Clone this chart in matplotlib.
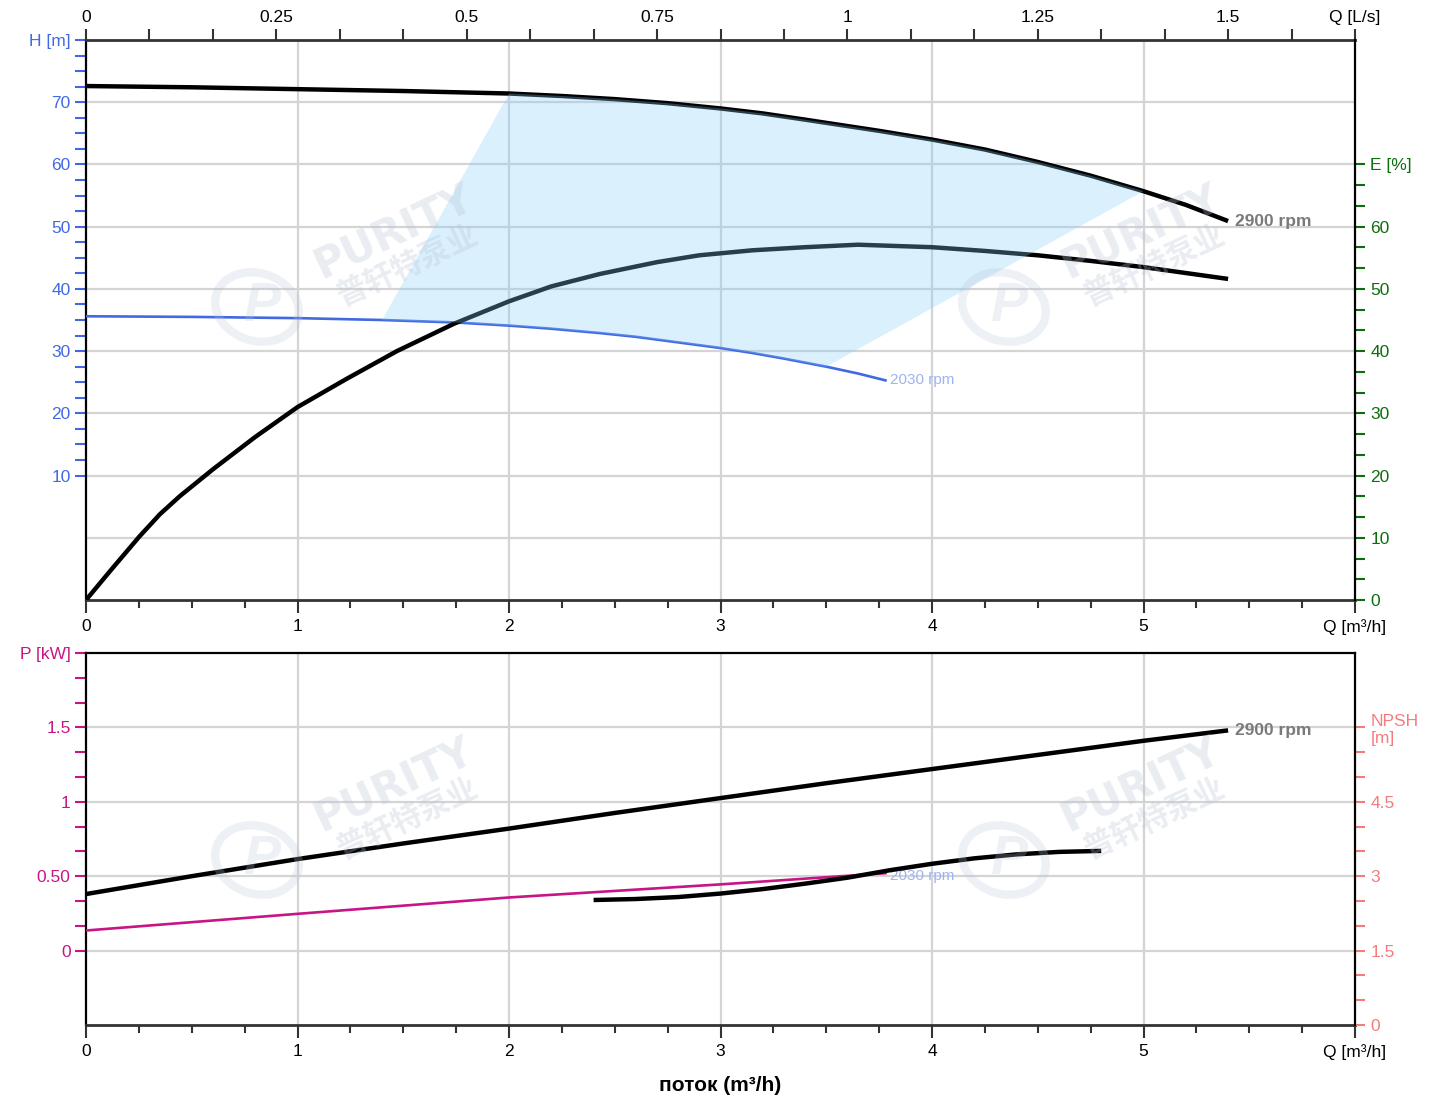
"""
Pump performance chart: head / efficiency (top) and power / NPSH (bottom).
"""
import numpy as np
import matplotlib
matplotlib.use('Agg')
import matplotlib.pyplot as plt
from matplotlib.ticker import FixedLocator
from matplotlib.patches import Ellipse

plt.rcParams['font.family'] = ['Liberation Sans', 'DejaVu Sans']

# ---- data ----
# head curve, 2900 rpm (Q m3/h, H m)
q_h2900 = [0, 0.5, 1, 1.5, 2, 2.25, 2.5, 2.75, 3, 3.2, 3.4, 3.75, 4, 4.25, 4.5, 4.75, 5, 5.2, 5.4]
h2900 = [72.6, 72.4, 72.1, 71.8, 71.4, 71.0, 70.5, 69.85, 69.0, 68.2, 67.2, 65.4, 64.0, 62.4,
         60.4, 58.2, 55.7, 53.5, 50.9]

# head curve, 2030 rpm
q_h2030 = [0, 0.5, 1, 1.4, 1.75, 2, 2.2, 2.43, 2.6, 2.8, 3.0, 3.15, 3.3, 3.5, 3.65, 3.78]
h2030 = [35.6, 35.5, 35.3, 35.0, 34.6, 34.1, 33.6, 32.9, 32.3, 31.4, 30.5, 29.7, 28.8, 27.5,
         26.4, 25.3]

# efficiency, 2900 rpm (E %)
q_eff = [0, 0.12, 0.255, 0.35, 0.444, 0.6, 0.8, 1.0, 1.23, 1.47, 1.74, 2.0, 2.2, 2.43, 2.7,
         2.9, 3.15, 3.4, 3.65, 4.0, 4.25, 4.5, 4.75, 5.0, 5.4]
eff = [0, 4.9, 10.3, 13.8, 16.7, 21, 26.2, 31, 35.5, 40, 44.4, 48, 50.4, 52.4, 54.3,
       55.4, 56.2, 56.7, 57.1, 56.7, 56.1, 55.4, 54.5, 53.5, 51.6]

# shaded operating range (Q limits on each speed curve)
range_2900 = (2.0, 5.0)
range_2030 = (1.4, 3.5)

# power (kW)
q_p2900 = [0, 0.5, 1, 1.5, 2, 2.5, 3, 3.5, 4, 4.5, 5, 5.4]
p2900 = [0.38, 0.50, 0.615, 0.72, 0.82, 0.925, 1.025, 1.125, 1.22, 1.315, 1.41, 1.48]
q_p2030 = [0, 1, 2, 3, 3.78]
p2030 = [0.135, 0.247, 0.357, 0.445, 0.52]

# NPSH (m)
q_npsh = [2.4, 2.6, 2.8, 3.0, 3.2, 3.4, 3.6, 3.8, 4.0, 4.2, 4.4, 4.6, 4.8]
npsh = [2.52, 2.54, 2.58, 2.65, 2.74, 2.85, 2.97, 3.12, 3.25, 3.36, 3.44, 3.49, 3.51]

# tick labels
q_ticks = [0, 1, 2, 3, 4, 5, 6]
q_labels = ['0', '1', '2', '3', '4', '5', 'Q [m³/h]']
ls_ticks = [0, 0.25, 0.5, 0.75, 1, 1.25, 1.5, 6 / 3.6]
ls_labels = ['0', '0.25', '0.5', '0.75', '1', '1.25', '1.5', 'Q [L/s]']
h_ticks = [10, 20, 30, 40, 50, 60, 70, 80]
h_labels = ['10', '20', '30', '40', '50', '60', '70', 'H [m]']
e_ticks = [0, 10, 20, 30, 40, 50, 60, 70]
e_labels = ['0', '10', '20', '30', '40', '50', '60', 'E [%]']
p_ticks = [0, 0.5, 1, 1.5, 2]
p_labels = ['0', '0.50', '1', '1.5', 'P [kW]']
n_ticks = [0, 1.5, 3, 4.5, 6]
n_labels = ['0', '1.5', '3', '4.5', 'NPSH\n[m]']

BLUE = '#4169E1'
MAGENTA = '#C71585'
GREEN = '#0B6E0B'
SALMON = '#F47C7C'
GRID = '#d4d4d4'
AXIS = '#333333'
FS = 12.5

W, H = 1430, 1099
fig = plt.figure(figsize=(W / 100, H / 100), dpi=100)


def fx(px):
    return px / W


def fy(py):
    return 1 - py / H


def style_x(ax):
    ax.tick_params(axis='x', which='major', direction='out', length=9, width=1.5,
                   color=AXIS, labelsize=FS, pad=5)
    ax.tick_params(axis='x', which='minor', direction='out', length=6, width=1.5,
                   color=AXIS)


def keep_spines(ax, sides, color='black', lw=1.6):
    for name, s in ax.spines.items():
        s.set_visible(name in sides)
        s.set_color(color)
        s.set_linewidth(lw)


# ================= top: head + efficiency =================
ax1 = fig.add_axes([fx(86), fy(600), fx(1355 - 86), (600 - 40) / H])
ax1q = ax1.twiny()
ax1e = ax1.twinx()

ax1.set_xlim(0, 6)
ax1.set_ylim(-10, 80)
ax1q.set_xlim(0, 6 / 3.6)
ax1e.set_ylim(0, 90)

for h in range(0, 80, 10):
    ax1.axhline(h, color=GRID, lw=1.6, zorder=0)
for q in range(1, 6):
    ax1.axvline(q, color=GRID, lw=1.6, zorder=0)

ax1.plot(q_h2900, h2900, color='black', lw=3.2, solid_capstyle='butt', zorder=3)
ax1.plot(q_h2030, h2030, color=BLUE, lw=1.9, zorder=3)
ax1e.plot(q_eff, eff, color='black', lw=3.2, solid_capstyle='butt', zorder=3)

# operating range polygon, drawn over the curves on the top-most axes
qa, ha = np.array(q_h2900), np.array(h2900)
qb, hb = np.array(q_h2030), np.array(h2030)
ma = (qa >= range_2900[0]) & (qa <= range_2900[1])
mb = (qb >= range_2030[0]) & (qb <= range_2030[1])
poly_q = np.concatenate([qa[ma], qb[mb][::-1]])
poly_h = np.concatenate([ha[ma], hb[mb][::-1]])
ax1e.fill(poly_q, poly_h, transform=ax1.transData, color='#87CEFA', alpha=0.3,
          lw=0, zorder=5)

ax1.annotate('2900 rpm', (q_h2900[-1], h2900[-1]), xytext=(5, 0),
             textcoords='offset points', va='center', ha='left',
             fontsize=12.5, fontweight='bold', color='#7a7a7a')
ax1.annotate('2030 rpm', (q_h2030[-1], h2030[-1]), xytext=(3, 0),
             textcoords='offset points', va='center', ha='left',
             fontsize=11, color='#9fb3ee')

# axes styling
ax1.set_xticks(q_ticks)
ax1.set_xticklabels(q_labels)
ax1.xaxis.set_minor_locator(FixedLocator(np.arange(0, 6.01, 0.25)))
style_x(ax1)
ax1.set_yticks(h_ticks)
ax1.set_yticklabels(h_labels)
ax1.yaxis.set_minor_locator(FixedLocator(np.arange(10, 80.1, 2.5)))
ax1.tick_params(axis='y', which='both', direction='out', length=8, width=1.5,
                color=BLUE, labelcolor=BLUE, labelsize=FS, pad=3)

ax1q.set_xticks(ls_ticks)
ax1q.set_xticklabels(ls_labels)
ax1q.xaxis.set_minor_locator(FixedLocator(np.arange(0, 1.67, 1 / 12)))
ax1q.tick_params(axis='x', which='both', direction='out', length=8, width=1.5,
                 color=AXIS, labelsize=FS, pad=3)

ax1e.set_yticks(e_ticks)
ax1e.set_yticklabels(e_labels)
ax1e.yaxis.set_minor_locator(FixedLocator(np.arange(0, 70.1, 10 / 3)))
ax1e.tick_params(axis='y', which='both', direction='out', length=7, width=1.5,
                 color=GREEN, labelcolor=GREEN, labelsize=FS, pad=4)

keep_spines(ax1, ('left',))
ax1.spines['bottom'].set_visible(True)
ax1.spines['bottom'].set_color(AXIS)
ax1.spines['bottom'].set_linewidth(2)
keep_spines(ax1q, ('top',), AXIS, 2)
keep_spines(ax1e, ('right',))

# ================= bottom: power + NPSH =================
ax2 = fig.add_axes([fx(86), fy(1025), fx(1355 - 86), (1025 - 653) / H])
ax2n = ax2.twinx()
ax2.set_xlim(0, 6)
ax2.set_ylim(-0.5, 2.0)
ax2n.set_ylim(0, 7.5)

for p in (0, 0.5, 1, 1.5):
    ax2.axhline(p, color=GRID, lw=1.6, zorder=0)
for q in range(1, 6):
    ax2.axvline(q, color=GRID, lw=1.6, zorder=0)

ax2.plot(q_p2900, p2900, color='black', lw=3.2, solid_capstyle='butt', zorder=3)
ax2.plot(q_p2030, p2030, color=MAGENTA, lw=1.9, zorder=3)
ax2n.plot(q_npsh, npsh, color='black', lw=3.2, solid_capstyle='butt', zorder=3)

ax2.annotate('2900 rpm', (q_p2900[-1], p2900[-1]), xytext=(5, 0),
             textcoords='offset points', va='center', ha='left',
             fontsize=12.5, fontweight='bold', color='#7a7a7a')
ax2.annotate('2030 rpm', (q_p2030[-1], p2030[-1]), xytext=(3, -2),
             textcoords='offset points', va='center', ha='left',
             fontsize=11, color='#9fb3ee')

ax2.set_xticks(q_ticks)
ax2.set_xticklabels(q_labels)
ax2.xaxis.set_minor_locator(FixedLocator(np.arange(0, 6.01, 0.25)))
style_x(ax2)
ax2.set_yticks(p_ticks)
ax2.set_yticklabels(p_labels)
ax2.yaxis.set_minor_locator(FixedLocator(np.arange(0, 2.01, 0.5 / 3)))
ax2.tick_params(axis='y', which='both', direction='out', length=8, width=1.5,
                color=MAGENTA, labelcolor=MAGENTA, labelsize=FS, pad=3)
ax2.set_xlabel('поток (m³/h)', fontsize=15, fontweight='bold', labelpad=11)

ax2n.set_yticks(n_ticks)
ax2n.set_yticklabels(n_labels)
ax2n.yaxis.set_minor_locator(FixedLocator(np.arange(0, 6.01, 0.5)))
ax2n.tick_params(axis='y', which='both', direction='out', length=7, width=1.5,
                 color=SALMON, labelcolor=SALMON, labelsize=FS, pad=4)

keep_spines(ax2, ('left', 'top'))
ax2.spines['bottom'].set_visible(True)
ax2.spines['bottom'].set_color(AXIS)
ax2.spines['bottom'].set_linewidth(2)
keep_spines(ax2n, ('right',))

# ================= watermarks =================
WM = '#b8c4d6'
for dx in (0, 747):
    for dy in (0, 553):
        fig.text(fx(393 + dx), fy(232 + dy), 'PURITY', fontsize=30,
                 fontweight='heavy', rotation=25, color=WM, alpha=0.3,
                 ha='center', va='center', family=['DejaVu Sans'], zorder=10)
        fig.text(fx(408 + dx), fy(266 + dy), '普轩特泵业', fontsize=22,
                 fontweight='bold', rotation=25, color=WM, alpha=0.3,
                 ha='center', va='center', family=['Noto Sans CJK SC'], zorder=10)
        fig.patches.append(Ellipse((fx(257 + dx), fy(307 + dy)), fx(80), 72 / H,
                                   angle=30, fill=False, lw=6, color=WM, alpha=0.25,
                                   transform=fig.transFigure, figure=fig))
        fig.text(fx(262 + dx), fy(307 + dy), 'P', fontsize=40, fontstyle='italic',
                 fontweight='bold', color=WM, alpha=0.25, ha='center', va='center',
                 zorder=10)

fig.savefig('out.png', dpi=100)
